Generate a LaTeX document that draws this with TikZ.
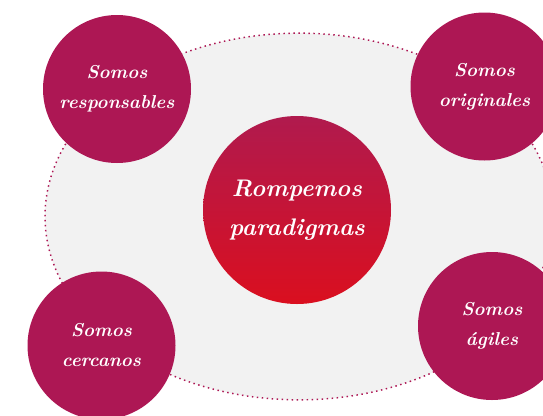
\documentclass[tikz,border=0pt]{standalone}
\usetikzlibrary{shapes.geometric}
\definecolor{berry}{HTML}{AD1754}
\definecolor{topred}{HTML}{B01A4E}
\definecolor{botred}{HTML}{DA0F1F}
\definecolor{fieldgray}{HTML}{F2F2F2}
\begin{document}
\begin{tikzpicture}[x=0.75pt,y=-0.75pt,
  bubble/.style={circle,fill=berry,minimum size=111pt,inner sep=0pt,
    text=white,align=center,font=\fontsize{14}{22.5}\selectfont\bfseries\itshape},
  hub/.style={circle,top color=topred,bottom color=botred,minimum size=141pt,inner sep=0pt,
    text=white,align=center,font=\fontsize{18}{29}\selectfont\bfseries\itshape},
  field/.style={ellipse,fill=fieldgray,draw=berry,line width=1.1pt,
    dash pattern=on 1.1pt off 2.65pt,minimum width=381pt,minimum height=275pt,inner sep=0pt}]
\useasboundingbox (0,0) rectangle (543,415);
\clip (0,0) rectangle (543,415);
\node[field] (field) at (299,216.5) {};
\node[hub] (hub) at (297,210) {Rompemos\\paradigmas};
\node[bubble] (resp) at (117,89) {Somos\\responsables};
\node[bubble] (orig) at (484.5,86.5) {Somos\\originales};
\node[bubble] (cerc) at (101.5,345.5) {Somos\\cercanos};
\node[bubble] (agil) at (492,326) {Somos\\ágiles};
\end{tikzpicture}
\end{document}
